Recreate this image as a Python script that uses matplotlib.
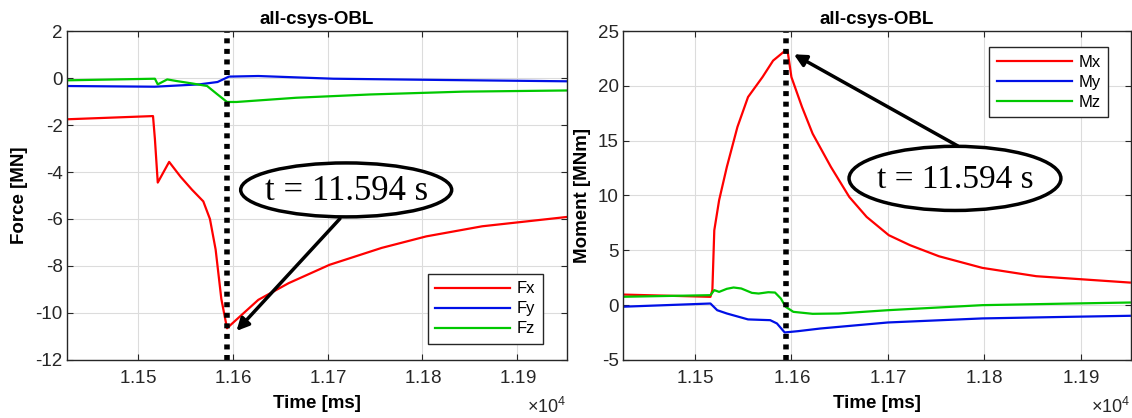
import matplotlib
matplotlib.use('Agg')
import matplotlib.pyplot as plt
from matplotlib.patches import Ellipse
from matplotlib.ticker import ScalarFormatter

plt.rcParams['font.family'] = ['Liberation Sans', 'DejaVu Sans']
plt.rcParams['axes.unicode_minus'] = False
plt.rcParams['mathtext.fontset'] = 'custom'
plt.rcParams['mathtext.rm'] = 'Liberation Sans'

# time axis in ms
t_fx = [11423, 11516, 11518, 11521, 11533, 11545, 11557, 11569, 11576, 11582, 11588, 11594,
        11598, 11627, 11659, 11702, 11757, 11804, 11863, 11953]
fx = [-1.76, -1.62, -2.6, -4.45, -3.57, -4.2, -4.75, -5.25, -6.0, -7.3, -9.4, -10.65,
      -10.5, -9.44, -8.73, -7.95, -7.23, -6.74, -6.31, -5.91]
t_fy = [11423, 11518, 11565, 11584, 11596, 11627, 11706, 11824, 11953]
fy = [-0.34, -0.37, -0.27, -0.17, 0.06, 0.085, -0.03, -0.085, -0.14]
t_fz = [11423, 11518, 11521, 11531, 11541, 11557, 11573, 11584, 11594, 11604, 11667, 11745, 11843, 11953]
fz = [-0.1, -0.03, -0.27, -0.06, -0.13, -0.23, -0.34, -0.7, -1.02, -1.02, -0.84, -0.7, -0.58, -0.53]

t_mx = [11423, 11516, 11518, 11520, 11525, 11533, 11544, 11555, 11570, 11581, 11593, 11596,
        11600, 11611, 11622, 11641, 11660, 11678, 11701, 11723, 11753, 11798, 11854, 11951]
mx = [0.97, 0.76, 1.37, 6.83, 9.57, 12.6, 16.25, 18.98, 20.8, 22.3, 23.17, 23.2,
      20.8, 18.07, 15.64, 12.6, 9.87, 8.05, 6.38, 5.47, 4.46, 3.4, 2.64, 2.06]
t_my = [11423, 11516, 11523, 11533, 11555, 11578, 11585, 11593, 11607, 11630, 11700, 11798, 11891, 11951]
my = [-0.15, 0.15, -0.46, -0.76, -1.3, -1.37, -1.67, -2.49, -2.37, -2.13, -1.58, -1.21, -1.06, -0.97]
t_mz = [11423, 11516, 11520, 11525, 11533, 11540, 11548, 11559, 11566, 11576, 11583, 11589, 11594,
        11602, 11622, 11649, 11700, 11798, 11891, 11951]
mz = [0.76, 0.91, 1.37, 1.21, 1.49, 1.61, 1.52, 1.12, 1.06, 1.18, 1.15, 0.61, -0.15,
      -0.61, -0.79, -0.76, -0.46, 0.0, 0.15, 0.24]

t_event = 11594
xticks = [11500, 11600, 11700, 11800, 11900]

red = '#ff0000'
blue = '#0010e6'
green = '#00c800'
dark = '#262626'

fig = plt.figure(figsize=(11.32, 4.18), dpi=100)
ax1 = fig.add_axes([0.0589, 0.1388, 0.4417, 0.787])
ax2 = fig.add_axes([0.5501, 0.1388, 0.4488, 0.787])


def style(ax, ylab, ylim, yticks):
    ax.set_xlim(11425, 11952)
    ax.set_ylim(*ylim)
    ax.set_xticks(xticks)
    ax.set_yticks(yticks)
    fmt = ScalarFormatter(useMathText=True)
    fmt.set_powerlimits((0, 0))
    ax.xaxis.set_major_formatter(fmt)
    ax.xaxis.get_offset_text().set_visible(False)
    ax.text(1.0, -0.172, r'$\times10^{4}$', transform=ax.transAxes, ha='right', va='bottom',
            fontsize=13, color=dark)
    ax.grid(True, color='#dcdcdc', lw=0.8)
    ax.set_axisbelow(True)
    ax.tick_params(direction='in', top=True, right=True, labelsize=13.5, length=4, color=dark,
                   labelcolor=dark)
    ax.tick_params(axis='x', pad=7)
    ax.tick_params(axis='y', pad=3)
    for s in ax.spines.values():
        s.set_color(dark)
        s.set_linewidth(1.0)
    ax.set_title('all-csys-OBL', fontsize=13.5, fontweight='bold', pad=5)
    ax.set_xlabel('Time [ms]', fontsize=13.5, fontweight='bold', labelpad=6)
    ax.set_ylabel(ylab, fontsize=13.5, fontweight='bold', labelpad=5)


def legend(ax, loc, anchor):
    leg = ax.legend(loc=loc, bbox_to_anchor=anchor, borderaxespad=0, fontsize=12,
                    handlelength=4.5, handletextpad=0.4, fancybox=False, edgecolor=dark,
                    framealpha=1, borderpad=0.45, labelspacing=0.3)
    leg.get_frame().set_linewidth(1.0)


ax1.plot(t_fx, fx, color=red, lw=1.6, label='Fx')
ax1.plot(t_fy, fy, color=blue, lw=1.6, label='Fy')
ax1.plot(t_fz, fz, color=green, lw=1.6, label='Fz')
ax1.axvline(t_event, color='black', lw=4, linestyle=(0, (0.9, 1.0)))
style(ax1, 'Force [MN]', (-12, 2), range(-12, 3, 2))
legend(ax1, 'lower right', (0.952, 0.0486))
ax1.add_patch(Ellipse((0.559, 0.517), 0.422, 0.164, transform=ax1.transAxes,
                      facecolor='white', edgecolor='black', lw=2.5, zorder=5))
ax1.text(0.559, 0.512, 't = 11.594 s', transform=ax1.transAxes, ha='center', va='center',
         fontsize=25, family='Liberation Serif', zorder=6)
ax1.annotate('', xy=(11602, -10.85), xytext=(11715, -5.9),
             arrowprops=dict(arrowstyle='-|>', color='black', lw=2.5, mutation_scale=18), zorder=6)

ax2.plot(t_mx, mx, color=red, lw=1.6, label='Mx')
ax2.plot(t_my, my, color=blue, lw=1.6, label='My')
ax2.plot(t_mz, mz, color=green, lw=1.6, label='Mz')
ax2.axvline(t_event, color='black', lw=4, linestyle=(0, (0.9, 1.0)))
style(ax2, 'Moment [MNm]', (-5, 25), range(-5, 26, 5))
legend(ax2, 'upper right', (0.9557, 0.9514))
ax2.add_patch(Ellipse((0.654, 0.552), 0.417, 0.195, transform=ax2.transAxes,
                      facecolor='white', edgecolor='black', lw=2.5, zorder=5))
ax2.text(0.654, 0.547, 't = 11.594 s', transform=ax2.transAxes, ha='center', va='center',
         fontsize=24, family='Liberation Serif', zorder=6)
ax2.annotate('', xy=(11600, 23.0), xytext=(11775, 14.4),
             arrowprops=dict(arrowstyle='-|>', color='black', lw=2.5, mutation_scale=18), zorder=6)

fig.savefig('out.png', dpi=100)
